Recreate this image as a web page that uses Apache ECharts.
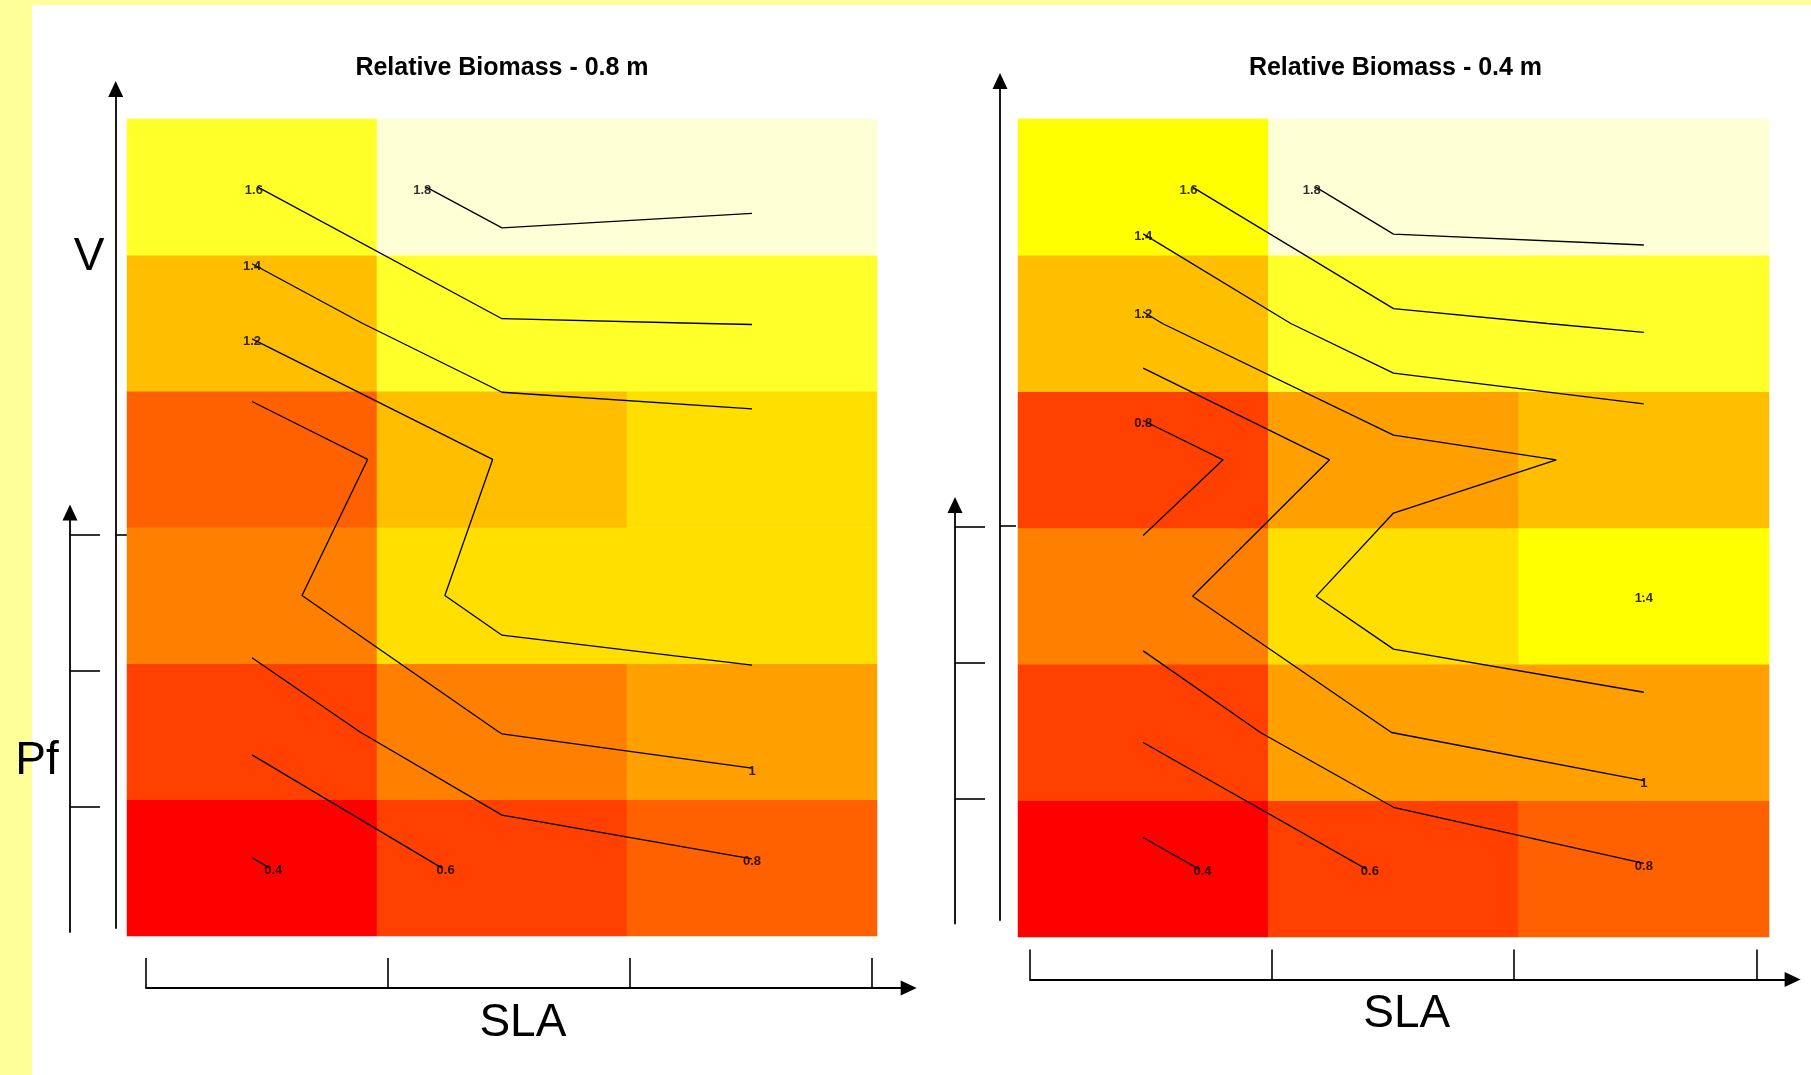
<!DOCTYPE html>
<html>
<head>
<meta charset="utf-8">
<title>Relative Biomass</title>
<script src="https://cdn.jsdelivr.net/npm/echarts@6/dist/echarts.min.js"></script>
<style>
  html, body { margin: 0; padding: 0; background: #ffffff; }
  #chart { width: 1811px; height: 1075px; }
</style>
</head>
<body>
<div id="chart"></div>
<script>
// ---- data -------------------------------------------------------------
// SLA levels (columns, left to right)
const slaLevels = ['SLA 1', 'SLA 2', 'SLA 3'];
// V / Pf combinations (rows, bottom to top)
const rowLevels = ['V1 Pf1', 'V1 Pf2', 'V1 Pf3', 'V2 Pf1', 'V2 Pf2', 'V2 Pf3'];

// Relative biomass at 0.8 m, one row per V/Pf combination (bottom to top)
const biomass08 = [
  [0.380, 0.670, 0.780],
  [0.645, 1.005, 1.080],
  [0.930, 1.280, 1.325],
  [0.815, 1.215, 1.280],
  [1.250, 1.590, 1.603],
  [1.593, 1.890, 1.847]
];

// Relative biomass at 0.4 m
const biomass04 = [
  [0.334, 0.633, 0.787],
  [0.621, 1.003, 1.116],
  [0.920, 1.325, 1.4005],
  [0.650, 1.120, 1.243],
  [1.170, 1.560, 1.625],
  [1.520, 1.926, 1.929]
];

const contourLevels = [0.4, 0.6, 0.8, 1.0, 1.2, 1.4, 1.6, 1.8];
const panelTitles = ['Relative Biomass - 0.8 m', 'Relative Biomass - 0.4 m'];
const panelData = [biomass08, biomass04];

// 12-step heat palette (red -> yellow -> cream)
const heatColors = ['#FF0000', '#FF2000', '#FF4000', '#FF6000', '#FF8000', '#FF9F00',
                    '#FFBF00', '#FFDF00', '#FFFF00', '#FFFF2A', '#FFFF80', '#FFFFD5'];

// ---- layout (pixels) ---------------------------------------------------
const FONT = "'Liberation Sans', Arial, sans-serif";
const layout = [
  {
    heat: { left: 127, top: 119, width: 750, height: 817 },
    titleX: 502,
    sla: { y: 988, x0: 146, x1: 908.7, ticks: [146, 388, 630, 871.5] },
    pf:  { x: 70, y0: 932, y1: 512.5, ticks: [806.6, 670.7, 535] },
    v:   { x: 115.7, y0: 928, y1: 89, ticks: [535] }
  },
  {
    heat: { left: 1018, top: 119, width: 751, height: 818 },
    titleX: 1395.5,
    sla: { y: 979.6, x0: 1030, x1: 1792.6, ticks: [1030, 1272, 1514, 1756.5] },
    pf:  { x: 955, y0: 923.5, y1: 505, ticks: [798.9, 662.4, 526.7] },
    v:   { x: 1000, y0: 920, y1: 81, ticks: [526] }
  }
];

// ---- contouring (marching squares on the cell-centre grid) -------------
function traceContours(rows, level) {
  const ny = rows.length, nx = rows[0].length;
  const v = (n) => rows[n[1]][n[0]];
  const above = (n) => v(n) >= level;
  const keyOf = (a, b) => {
    const ka = a[0] + ',' + a[1], kb = b[0] + ',' + b[1];
    return ka < kb ? ka + '|' + kb : kb + '|' + ka;
  };
  const points = {};
  const segs = [];
  const cross = (a, b) => {
    const k = keyOf(a, b);
    if (!points[k]) {
      const t = (level - v(a)) / (v(b) - v(a));
      points[k] = [a[0] + 1 + t * (b[0] - a[0]), a[1] + 1 + t * (b[1] - a[1])];
    }
    return k;
  };
  for (let i = 0; i < nx - 1; i++) {
    for (let j = 0; j < ny - 1; j++) {
      const c = [[i, j], [i + 1, j], [i + 1, j + 1], [i, j + 1]];
      const edges = [[c[0], c[1]], [c[1], c[2]], [c[2], c[3]], [c[3], c[0]]];
      const hit = [];
      edges.forEach((e, idx) => { if (above(e[0]) !== above(e[1])) hit.push(idx); });
      if (hit.length === 2) {
        segs.push([cross(edges[hit[0]][0], edges[hit[0]][1]), cross(edges[hit[1]][0], edges[hit[1]][1])]);
      } else if (hit.length === 4) {
        const centre = (v(c[0]) + v(c[1]) + v(c[2]) + v(c[3])) / 4;
        const pairs = ((centre >= level) === above(c[0])) ? [[0, 1], [2, 3]] : [[3, 0], [1, 2]];
        pairs.forEach(p => segs.push([cross(edges[p[0]][0], edges[p[0]][1]), cross(edges[p[1]][0], edges[p[1]][1])]));
      }
    }
  }
  const adj = {};
  segs.forEach((s, idx) => s.forEach(k => { (adj[k] = adj[k] || []).push(idx); }));
  const used = new Array(segs.length).fill(false);
  const walk = (startKey) => {
    const keys = [startKey];
    let cur = startKey;
    for (;;) {
      const next = (adj[cur] || []).find(idx => !used[idx]);
      if (next === undefined) break;
      used[next] = true;
      cur = segs[next][0] === cur ? segs[next][1] : segs[next][0];
      keys.push(cur);
    }
    return keys.map(k => points[k]);
  };
  const lines = [];
  Object.keys(adj).forEach(k => {
    if (adj[k].length === 1 && !used[adj[k][0]]) lines.push(walk(k));
  });
  segs.forEach((s, idx) => { if (!used[idx]) lines.push(walk(s[0])); });
  return lines;
}

// labels sit at the upper end of contours above 1 and at the right end of the others
function labelEnd(line, level) {
  const a = line[0], b = line[line.length - 1];
  const eps = 1e-6;
  let useB;
  if (level > 1) useB = Math.abs(b[1] - a[1]) > eps ? b[1] > a[1] : b[0] > a[0];
  else useB = Math.abs(b[0] - a[0]) > eps ? b[0] > a[0] : b[1] > a[1];
  return useB ? [b, line[line.length - 2]] : [a, line[1]];
}

function heatPieces(rows) {
  const flat = rows.flat();
  const lo = Math.min(...flat), hi = Math.max(...flat);
  const step = (hi - lo) / heatColors.length;
  return heatColors.map((color, k) => {
    const p = { gte: k === 0 ? lo - 1e-9 : lo + k * step, color: color };
    if (k === heatColors.length - 1) p.lte = hi + 1e-9; else p.lt = lo + (k + 1) * step;
    return p;
  });
}

// ---- option assembly ----------------------------------------------------
const grid = [], xAxis = [], yAxis = [], series = [], visualMap = [], title = [];
const blackLine = { color: '#000', width: 1.8 };
const tickStyle = { color: '#000', width: 1.6 };
const nameStyle = { fontSize: 46, fontFamily: FONT, color: '#000', padding: [0, 9, 0, 0] };

function arrowAxis(extra) {
  return Object.assign({
    type: 'value',
    min: 0,
    axisLine: { show: true, onZero: false, symbol: ['none', 'triangle'], symbolSize: [15, 16], lineStyle: blackLine },
    axisLabel: { show: false },
    splitLine: { show: false }
  }, extra);
}

layout.forEach((L, k) => {
  const rows = panelData[k];

  // heatmap grid with category axes and an overlaid continuous frame for contours
  const gHeat = grid.length;
  grid.push(Object.assign({ outerBoundsMode: 'none' }, L.heat));
  const xCat = xAxis.length;
  xAxis.push({ type: 'category', gridIndex: gHeat, data: slaLevels, show: false });
  const xVal = xAxis.length;
  xAxis.push({ type: 'value', gridIndex: gHeat, min: 0.5, max: slaLevels.length + 0.5, show: false, position: 'top' });
  const yCat = yAxis.length;
  yAxis.push({ type: 'category', gridIndex: gHeat, data: rowLevels, show: false });
  const yVal = yAxis.length;
  yAxis.push({ type: 'value', gridIndex: gHeat, min: 0.5, max: rowLevels.length + 0.5, show: false, position: 'right' });

  const cells = [];
  rows.forEach((row, j) => row.forEach((val, i) => cells.push([i, j, val])));
  visualMap.push({ type: 'piecewise', show: false, seriesIndex: series.length, dimension: 2, pieces: heatPieces(rows) });
  series.push({
    type: 'heatmap', xAxisIndex: xCat, yAxisIndex: yCat, data: cells,
    itemStyle: { borderWidth: 0 }, emphasis: { disabled: true }, silent: true
  });

  // contour lines and their labels
  const labelItems = [];
  contourLevels.forEach(level => {
    traceContours(rows, level).forEach(line => {
      series.push({
        type: 'line', xAxisIndex: xVal, yAxisIndex: yVal, data: line,
        symbol: 'none', showSymbol: false, silent: true, clip: false,
        lineStyle: { color: '#000', width: 1.3 }
      });
      const [end, prev] = labelEnd(line, level);
      // ends meeting the top or bottom border get nudged outward along the border
      const onRowBorder = Math.abs(end[1] - 1) < 1e-6 || Math.abs(end[1] - rowLevels.length) < 1e-6;
      const dx = onRowBorder ? Math.sign(end[0] - prev[0]) * 4 : 0;
      labelItems.push({ value: end, label: { formatter: String(+level.toFixed(1)), offset: [dx, 3] } });
    });
  });
  series.push({
    type: 'scatter', xAxisIndex: xVal, yAxisIndex: yVal, data: labelItems,
    symbolSize: 1, itemStyle: { color: 'rgba(0,0,0,0)' }, silent: true, z: 5,
    label: { show: true, position: 'inside', fontSize: 13, fontWeight: 'bold', fontFamily: FONT, color: '#000' }
  });

  // schematic SLA axis (bottom arrow)
  const gS = grid.length;
  grid.push({ outerBoundsMode: 'none', left: L.sla.x0, top: L.sla.y - 10, width: L.sla.x1 - L.sla.x0, height: 10 });
  xAxis.push(arrowAxis({
    gridIndex: gS, max: L.sla.x1 - L.sla.x0,
    axisTick: { show: true, inside: true, length: 30, customValues: L.sla.ticks.map(t => t - L.sla.x0), lineStyle: tickStyle },
    name: 'SLA', nameLocation: 'middle', nameGap: 12,
    nameTextStyle: nameStyle
  }));
  yAxis.push({ type: 'value', gridIndex: gS, show: false });

  // schematic Pf axis (left arrow)
  const gP = grid.length;
  grid.push({ outerBoundsMode: 'none', left: L.pf.x, top: L.pf.y1, width: 10, height: L.pf.y0 - L.pf.y1 });
  yAxis.push(arrowAxis({
    gridIndex: gP, max: L.pf.y0 - L.pf.y1, position: 'left',
    axisTick: { show: true, inside: true, length: 30, customValues: L.pf.ticks.map(t => L.pf.y0 - t), lineStyle: tickStyle }
  }));
  xAxis.push({ type: 'value', gridIndex: gP, show: false });

  // schematic V axis (tall arrow)
  const gV = grid.length;
  grid.push({ outerBoundsMode: 'none', left: L.v.x, top: L.v.y1, width: 10, height: L.v.y0 - L.v.y1 });
  yAxis.push(arrowAxis({
    gridIndex: gV, max: L.v.y0 - L.v.y1, position: 'left',
    axisTick: { show: true, inside: true, length: 16, customValues: L.v.ticks.map(t => L.v.y0 - t), lineStyle: tickStyle }
  }));
  xAxis.push({ type: 'value', gridIndex: gV, show: false });

  title.push({
    text: panelTitles[k], left: L.titleX, top: 55.5, textAlign: 'center', padding: 0,
    textStyle: { fontSize: 25, fontWeight: 'bold', fontFamily: FONT, color: '#000' }
  });
});

const bigText = (text, x, y) => ({
  type: 'text', x: x, y: y, z: 10, silent: true,
  style: { text: text, fontSize: 46, fontFamily: FONT, fill: '#000',
           align: 'center', verticalAlign: 'middle', textAlign: 'center', textVerticalAlign: 'middle' }
});

const option = {
  backgroundColor: '#ffffff',
  animation: false,
  title: title,
  grid: grid,
  xAxis: xAxis,
  yAxis: yAxis,
  visualMap: visualMap,
  series: series,
  graphic: [
    { type: 'rect', silent: true, z: -1, shape: { x: 0, y: 0, width: 32, height: 1075 }, style: { fill: '#FFFF99' } },
    { type: 'rect', silent: true, z: -1, shape: { x: 0, y: 0, width: 1811, height: 5 }, style: { fill: '#FFFF99' } },
    bigText('V', 89, 257.5),
    bigText('Pf', 37, 761.5)
  ]
};

const chart = echarts.init(document.getElementById('chart'), null, { renderer: 'canvas' });
chart.setOption(option);
</script>
</body>
</html>
